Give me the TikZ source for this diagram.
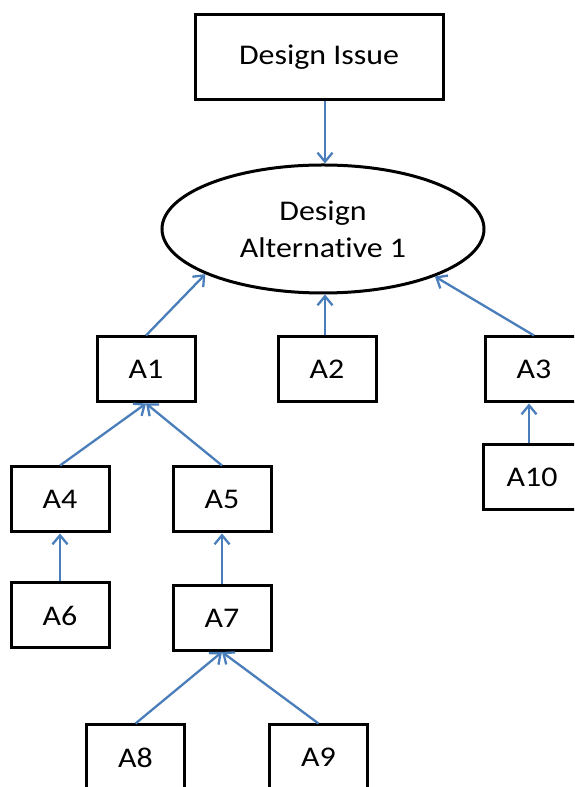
\documentclass[tikz,border=0pt]{standalone}
\usepackage{fontspec}
\setmainfont{Carlito}[FakeStretch=1.12,Ligatures={NoCommon,NoRare,NoContextual}]
\usetikzlibrary{arrows.meta,shapes.geometric}
\definecolor{arrowblue}{RGB}{74,126,187}
\tikzset{
  box/.style={draw=black,line width=3pt,minimum width=98pt,minimum height=65pt,inner sep=0pt,font=\fontsize{28.5}{37}\selectfont},
  oval/.style={draw=black,line width=3pt,ellipse,minimum width=322pt,minimum height=128pt,inner sep=0pt,align=center,font=\fontsize{28.5}{37}\selectfont},
  conn/.style={draw=arrowblue,line width=2.3pt,-{Straight Barb[length=9pt,width=15pt,line width=2.3pt]}}
}
\begin{document}
\begin{tikzpicture}[x=1pt,y=1pt]
\useasboundingbox (0,0) rectangle (574,787);
\clip (0,0) rectangle (574,787);
\node[box,minimum width=248pt,minimum height=85pt] (DI) at (319,729.5) {Design Issue};
\node[oval] (E) at (323,558) {Design\\Alternative 1};
\node[box] (A1) at (146,417.5) {A1};
\node[box] (A2) at (327,417.5) {A2};
\node[box] (A3) at (534,417.5) {A3};
\node[box] (A10) at (532,309.5) {A10};
\node[box] (A4) at (60,287.5) {A4};
\node[box] (A5) at (222,287.5) {A5};
\node[box] (A6) at (60,171.5) {A6};
\node[box] (A7) at (222,169) {A7};
\node[box] (A8) at (135.5,29.5) {A8};
\node[box] (A9) at (318.5,29.5) {A9};
\draw[conn] ([xshift=6pt]DI.south) -- ([xshift=2pt]E.north);
\draw[conn] (A1.north) -- (E.201);
\draw[conn] ([xshift=-2pt]A2.north) -- ([xshift=2pt]E.south);
\draw[conn] (A3.north) -- (E.-23);
\draw[conn] ([xshift=-3pt]A10.north) -- ([xshift=-5pt]A3.south);
\draw[conn] (A4.north) -- (A1.south);
\draw[conn] (A5.north) -- (A1.south);
\draw[conn] (A6.north) -- (A4.south);
\draw[conn] (A7.north) -- (A5.south);
\draw[conn] (A8.north) -- (A7.south);
\draw[conn] (A9.north) -- (A7.south);
\end{tikzpicture}
\end{document}
